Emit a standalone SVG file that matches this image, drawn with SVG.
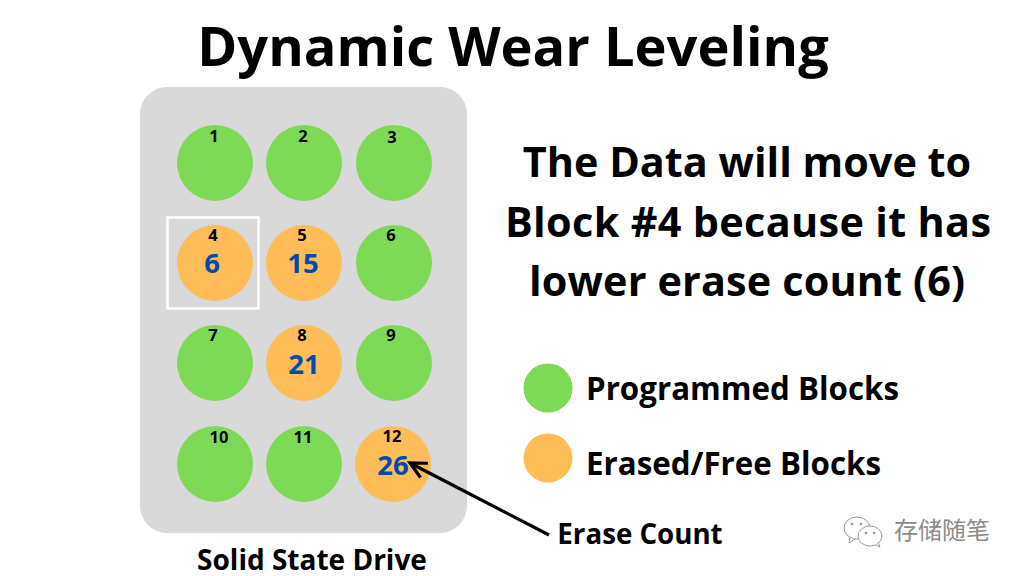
<svg xmlns="http://www.w3.org/2000/svg" width="1024" height="576" viewBox="0 0 1024 576">
<style>
text{font-family:"Open Sans","Liberation Sans",sans-serif;font-weight:700;fill:#000;text-anchor:middle}
.g{fill:#7ed957}.o{fill:#ffbd59}
.id{font-size:16.500px}
.cnt{font-size:27.500px;fill:#004aad}
.big{font-size:41.400px}
.leg{font-size:31.300px;text-anchor:start}
</style>
<defs>
<marker id="head" markerUnits="userSpaceOnUse" markerWidth="22" markerHeight="20" refX="19" refY="10" orient="auto">
<path d="M3 2L19 10L3 18" fill="none" stroke="#000" stroke-width="3.200"/>
</marker>
</defs>
<rect width="1024" height="576" fill="#fff"/>
<text id="title" x="513" y="66" font-size="54.200">Dynamic Wear Leveling</text>
<g id="drive">
<rect x="140" y="87" width="327" height="446" rx="27" fill="#d9d9d9"/>
<text x="312" y="570" font-size="28">Solid State Drive</text>
</g>
<rect id="highlight" x="167.500" y="217.500" width="91" height="91" fill="none" stroke="#fff" stroke-width="2.500"/>
<g id="block1"><circle class="g" cx="215" cy="163" r="38"/><text class="id" x="214" y="142">1</text></g>
<g id="block2"><circle class="g" cx="304" cy="163" r="38"/><text class="id" x="303" y="142">2</text></g>
<g id="block3"><circle class="g" cx="394" cy="163" r="38"/><text class="id" x="392" y="143">3</text></g>
<g id="block4"><circle class="o" cx="215" cy="263" r="38"/><text class="id" x="213" y="241">4</text><text class="cnt" x="212" y="273">6</text></g>
<g id="block5"><circle class="o" cx="304" cy="263" r="38"/><text class="id" x="302" y="241">5</text><text class="cnt" x="303" y="273">15</text></g>
<g id="block6"><circle class="g" cx="394" cy="263" r="38"/><text class="id" x="391" y="241">6</text></g>
<g id="block7"><circle class="g" cx="215" cy="363" r="38"/><text class="id" x="213" y="341">7</text></g>
<g id="block8"><circle class="o" cx="304" cy="363" r="38"/><text class="id" x="302" y="341">8</text><text class="cnt" x="304" y="374">21</text></g>
<g id="block9"><circle class="g" cx="394" cy="363" r="38"/><text class="id" x="391" y="341">9</text></g>
<g id="block10"><circle class="g" cx="215" cy="464" r="38"/><text class="id" x="219" y="443">10</text></g>
<g id="block11"><circle class="g" cx="304" cy="464" r="38"/><text class="id" x="303" y="443">11</text></g>
<g id="block12"><circle class="o" cx="393" cy="464" r="38"/><text class="id" x="392" y="442">12</text><text class="cnt" x="393" y="475">26</text></g>
<g id="connectors">
<path d="M549 535L410 463" fill="none" stroke="#000" stroke-width="3.200" marker-end="url(#head)"/>
</g>
<g id="message">
<text class="big" x="747" y="177">The Data will move to</text>
<text class="big" x="748" y="237" textLength="486" lengthAdjust="spacing">Block #4 because it has</text>
<text class="big" x="747" y="296" textLength="436" lengthAdjust="spacing">lower erase count (6)</text>
</g>
<g id="legend-programmed"><circle class="g" cx="548" cy="388" r="24.500"/><text class="leg" x="586" y="400">Programmed Blocks</text></g>
<g id="legend-erased"><circle class="o" cx="548" cy="458" r="24.500"/><text class="leg" x="586" y="475">Erased/Free Blocks</text></g>
<text id="erase-label" x="640" y="544" font-size="27.700">Erase Count</text>
<g id="watermark">
<g fill="#fff" stroke="#9a9a9a" stroke-width="1">
<ellipse cx="857" cy="528" rx="13" ry="11"/>
<path d="M850 538L849 543L855 539"/>
<ellipse cx="870" cy="536" rx="12" ry="10"/>
<path d="M876 545L880 547L878 542"/>
</g>
<g fill="#9a9a9a"><circle cx="852" cy="524" r="1.300"/><circle cx="861" cy="524" r="1.300"/><circle cx="866" cy="533" r="1.300"/><circle cx="874" cy="533" r="1.300"/></g>
<text x="942" y="539" font-size="24" style="font-family:'Noto Sans CJK SC',sans-serif;font-weight:400;fill:#8c8c8c">存储随笔</text>
</g>
</svg>
